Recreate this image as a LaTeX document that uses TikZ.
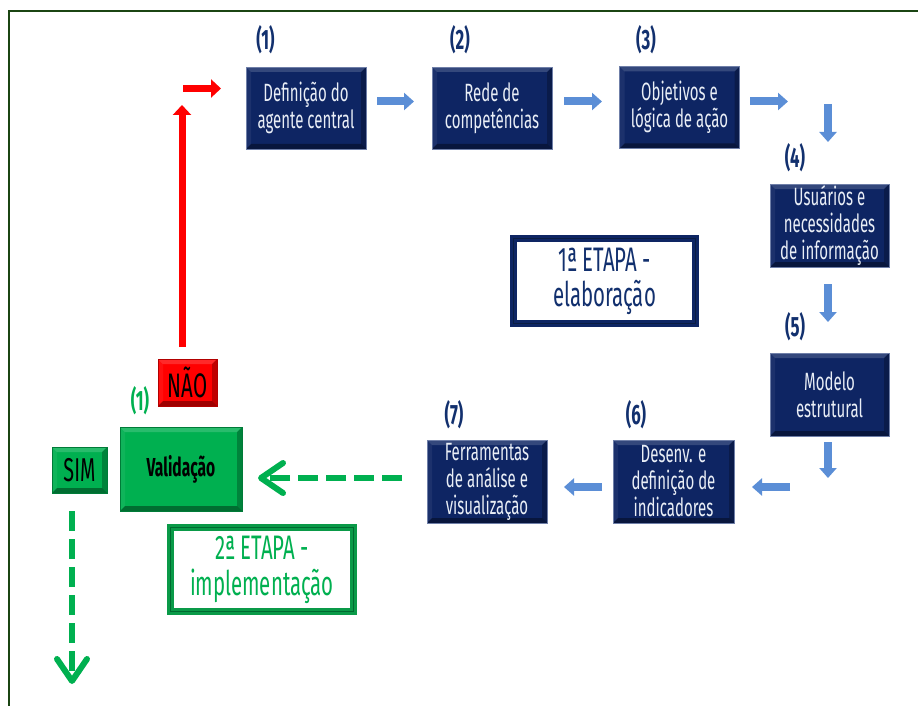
\documentclass[tikz,border=0pt]{standalone}
\usepackage{fontspec}
\setmainfont{Fira Sans}[FakeStretch=0.6]
\usetikzlibrary{arrows.meta}

\definecolor{navy}{HTML}{0E2563}
\definecolor{navyedge}{HTML}{6F7FA8}
\definecolor{navytext}{HTML}{12306E}
\definecolor{boxtext}{HTML}{E9EEF6}
\definecolor{arrowblue}{HTML}{5B8ED6}
\definecolor{okgreen}{HTML}{00B050}
\definecolor{framegreen}{HTML}{1B4513}
\definecolor{etapagreen}{HTML}{0A9A48}
\definecolor{noRed}{HTML}{FF0000}

\tikzset{
  % bevelled edges drawn inside a node
  bevel/.style={path picture={
    \coordinate (pnw) at (path picture bounding box.north west);
    \coordinate (pne) at (path picture bounding box.north east);
    \coordinate (psw) at (path picture bounding box.south west);
    \coordinate (pse) at (path picture bounding box.south east);
    \fill[white,opacity=0.16] (pnw) -- (pne) -- ([shift={(-#1,-#1)}]pne) -- ([shift={(#1,-#1)}]pnw) -- cycle;
    \fill[white,opacity=0.06] (pnw) -- (psw) -- ([shift={(#1,#1)}]psw) -- ([shift={(#1,-#1)}]pnw) -- cycle;
    \fill[black,opacity=0.25] (pne) -- (pse) -- ([shift={(-#1,#1)}]pse) -- ([shift={(-#1,-#1)}]pne) -- cycle;
    \fill[black,opacity=0.38] (psw) -- (pse) -- ([shift={(-#1,#1)}]pse) -- ([shift={(#1,#1)}]psw) -- cycle;
  }},
  stepbox/.style={bevel=5pt, fill=navy, draw=navyedge, line width=0.8pt,
    minimum width=120pt, minimum height=82pt, inner sep=1pt,
    text=boxtext, align=center, font=\fontsize{25}{27}\selectfont},
  steplabel/.style={text=navytext, font=\bfseries\fontsize{28}{30}\selectfont},
  greenbox/.style={bevel=5pt, fill=okgreen, draw=okgreen!70!black, line width=0.6pt,
    text=black, align=center},
  etapabox/.style={line width=7pt, fill=white, align=center, inner sep=0pt},
  bluearrow/.style={draw=arrowblue, line width=8pt,
    -{Triangle[length=10pt,width=17pt]}},
  redarrow/.style={draw=noRed, line width=7pt,
    -{Triangle[length=10pt,width=18pt]}},
  greendash/.style={draw=okgreen, line width=6.5pt, dash pattern=on 20pt off 8pt,
    -{Straight Barb[length=22pt,width=30pt,line width=6pt,round]}},
  frameline/.style={draw=framegreen, line width=2.5pt}
}

\begin{document}
\begin{tikzpicture}[x=1pt,y=-1pt]
  \useasboundingbox (0,0) rectangle (918,706);

  % outer frame
  \draw[frameline] (9,706) -- (9,11) -- (918,11);

  % first stage: steps 1 to 7
  \node[stepbox] (b1) at (306,108) {Definição do\\agente central};
  \node[stepbox] (b2) at (492,108) {Rede de\\competências};
  \node[stepbox] (b3) at (679.5,107.5) {Objetivos e\\lógica de ação};
  \node[stepbox, minimum width=119pt, minimum height=83pt] (b4) at (829.5,225.5) {Usuários e\\necessidades\\de informação};
  \node[stepbox, minimum width=119pt, minimum height=83pt] (b5) at (829.5,394.5) {Modelo\\estrutural};
  \node[stepbox, minimum width=121pt, minimum height=83pt] (b6) at (673.5,481.5) {Desenv. e\\definição de\\indicadores};
  \node[stepbox, minimum height=83pt] (b7) at (487,481.5) {Ferramentas\\de análise e\\visualização};

  \node[steplabel] (l1) at (265.5,40) {(1)};
  \node[steplabel] (l2) at (460,40) {(2)};
  \node[steplabel] (l3) at (646,40) {(3)};
  \node[steplabel] (l4) at (795,158) {(4)};
  \node[steplabel] (l5) at (795,327) {(5)};
  \node[steplabel] (l6) at (636,415) {(6)};
  \node[steplabel] (l7) at (454,415) {(7)};

  % arrow ends between the steps
  \coordinate (a12s) at (377,101.5);  \coordinate (a12e) at (414,101.5);
  \coordinate (a23s) at (564,101.5);  \coordinate (a23e) at (602,101.5);
  \coordinate (a3s)  at (750,101.5);  \coordinate (a3e)  at (788,101.5);
  \coordinate (a4s)  at (828,104);    \coordinate (a4e)  at (828,142);
  \coordinate (a45s) at (828,284);    \coordinate (a45e) at (828,322);
  \coordinate (a5s)  at (828,442);    \coordinate (a5e)  at (828,478);
  \coordinate (a56s) at (790,487);    \coordinate (a56e) at (752,487);
  \coordinate (a67s) at (602,487);    \coordinate (a67e) at (564,487);

  \draw[bluearrow] (a12s) -- (a12e);
  \draw[bluearrow] (a23s) -- (a23e);
  \draw[bluearrow] (a3s) -- (a3e);
  \draw[bluearrow] (a4s) -- (a4e);
  \draw[bluearrow] (a45s) -- (a45e);
  \draw[bluearrow] (a5s) -- (a5e);
  \draw[bluearrow] (a56s) -- (a56e);
  \draw[bluearrow] (a67s) -- (a67e);

  % stage titles
  \node[etapabox, draw=navy, text=navytext, minimum width=182pt, minimum height=85pt,
    font=\fontsize{34}{35}\selectfont]
    (et1) at (604.5,281) {1ª ETAPA -\\elaboração};
  \node[etapabox, draw=etapagreen, text=okgreen, minimum width=183pt, minimum height=84pt,
    font=\fontsize{34}{36}\selectfont]
    (et2) at (262,569.5) {2ª ETAPA -\\implementação};
  \draw[navytext!60!black, line width=0.8pt] ([shift={(3.5pt,-3.5pt)}]et1.north west) rectangle ([shift={(-3.5pt,3.5pt)}]et1.south east);
  \draw[okgreen!60!black, line width=0.8pt] ([shift={(3.5pt,-3.5pt)}]et2.north west) rectangle ([shift={(-3.5pt,3.5pt)}]et2.south east);

  % validation
  \node[greenbox, minimum width=122pt, minimum height=84pt,
    font=\bfseries\fontsize{26}{28}\selectfont] (val) at (181,469) {Validação};
  \node[text=okgreen, font=\bfseries\fontsize{28}{30}\selectfont] (lv) at (140,401) {(1)};
  \node[greenbox, minimum width=55pt, minimum height=46pt, inner sep=0pt,
    font=\fontsize{33}{34}\selectfont] (sim) at (79.5,470) {SIM};
  \node[greenbox, fill=noRed, draw=noRed!70!black, minimum width=59pt, minimum height=47pt,
    inner sep=0pt, font=\fontsize{34}{35}\selectfont] (nao) at (187.5,382.5) {NÃO};

  % feedback loop back to step 1
  \coordinate (ru) at (182,347);
  \coordinate (rt) at (182,105);
  \coordinate (rhs) at (183,88.5);
  \coordinate (rhe) at (221,88.5);
  \draw[redarrow] (ru) -- (rt);
  \draw[redarrow] (rhs) -- (rhe);

  % results move on to validation and beyond
  \coordinate (gv) at (402,478);
  \coordinate (gvt) at (258,478);
  \draw[greendash] (gv) -- (gvt);
  \coordinate (gd) at (72,511);
  \coordinate (gdt) at (72,684);
  \draw[greendash] (gd) -- (gdt);
\end{tikzpicture}
\end{document}
